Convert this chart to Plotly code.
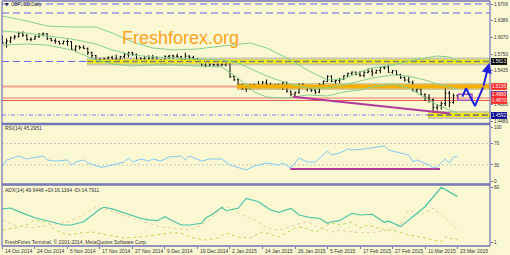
import plotly.graph_objects as go

# ---------------- data ----------------
date_labels = ["14 Oct 2014", "24 Oct 2014", "5 Nov 2014", "17 Nov 2014", "27 Nov 2014",
               "9 Dec 2014", "19 Dec 2014", "2 Jan 2015", "14 Jan 2015", "26 Jan 2015",
               "5 Feb 2015", "17 Feb 2015", "27 Feb 2015", "11 Mar 2015", "23 Mar 2015"]
label_idx = [0, 8, 16, 24, 32, 40, 48, 56, 64, 72, 80, 88, 96, 104, 112]

opens = [1.6085, 1.5965, 1.6000, 1.6060, 1.6085, 1.6150, 1.6110, 1.6030, 1.6040, 1.6085,
         1.6130, 1.6140, 1.6050, 1.6010, 1.5995, 1.5950, 1.5995, 1.5990, 1.5845, 1.5905,
         1.5880, 1.5860, 1.5780, 1.5725, 1.5650, 1.5645, 1.5665, 1.5690, 1.5660, 1.5650,
         1.5705, 1.5740, 1.5780, 1.5750, 1.5640, 1.5670, 1.5635, 1.5675, 1.5690, 1.5600,
         1.5640, 1.5705, 1.5720, 1.5715, 1.5705, 1.5640, 1.5715, 1.5690, 1.5650, 1.5625,
         1.5545, 1.5525, 1.5560, 1.5550, 1.5545, 1.5550, 1.5580, 1.5325, 1.5265, 1.5175,
         1.5095, 1.5105, 1.5165, 1.5135, 1.5140, 1.5215, 1.5175, 1.5135, 1.5165, 1.5135,
         1.5215, 1.5045, 1.4990, 1.5025, 1.5170, 1.5135, 1.5095, 1.5065, 1.5030, 1.5170,
         1.5235, 1.5330, 1.5235, 1.5250, 1.5275, 1.5340, 1.5385, 1.5410, 1.5370, 1.5345,
         1.5400, 1.5425, 1.5395, 1.5440, 1.5495, 1.5505, 1.5405, 1.5435, 1.5365, 1.5305,
         1.5260, 1.5220, 1.5065, 1.5085, 1.4980, 1.4930, 1.4890, 1.4735, 1.4770, 1.4810,
         1.5010, 1.4830, 1.4960]
highs = [1.6110, 1.6050, 1.6090, 1.6120, 1.6180, 1.6185, 1.6130, 1.6070, 1.6110, 1.6150,
         1.6165, 1.6150, 1.6060, 1.6050, 1.6005, 1.6010, 1.6030, 1.6000, 1.5920, 1.5910,
         1.5920, 1.5880, 1.5800, 1.5740, 1.5685, 1.5690, 1.5710, 1.5720, 1.5740, 1.5720,
         1.5770, 1.5800, 1.5795, 1.5760, 1.5690, 1.5720, 1.5730, 1.5740, 1.5710, 1.5660,
         1.5730, 1.5740, 1.5740, 1.5760, 1.5720, 1.5780, 1.5730, 1.5720, 1.5680, 1.5640,
         1.5600, 1.5580, 1.5570, 1.5590, 1.5610, 1.5620, 1.5600, 1.5350, 1.5290, 1.5185,
         1.5140, 1.5180, 1.5185, 1.5240, 1.5240, 1.5270, 1.5210, 1.5180, 1.5190, 1.5230,
         1.5230, 1.5060, 1.5040, 1.5200, 1.5200, 1.5160, 1.5110, 1.5080, 1.5200, 1.5250,
         1.5350, 1.5350, 1.5270, 1.5300, 1.5350, 1.5400, 1.5420, 1.5420, 1.5430, 1.5440,
         1.5480, 1.5480, 1.5460, 1.5500, 1.5530, 1.5550, 1.5450, 1.5440, 1.5380, 1.5330,
         1.5320, 1.5250, 1.5100, 1.5100, 1.5010, 1.4990, 1.4910, 1.4800, 1.4850, 1.5165,
         1.5050, 1.5000, 1.4990]
lows = [1.5940, 1.5875, 1.5960, 1.6030, 1.6070, 1.6080, 1.6010, 1.5995, 1.6020, 1.6060,
        1.6090, 1.6020, 1.5990, 1.5950, 1.5935, 1.5940, 1.5910, 1.5830, 1.5790, 1.5840,
        1.5850, 1.5735, 1.5680, 1.5620, 1.5590, 1.5610, 1.5640, 1.5620, 1.5630, 1.5640,
        1.5670, 1.5690, 1.5720, 1.5620, 1.5590, 1.5620, 1.5620, 1.5640, 1.5580, 1.5570,
        1.5560, 1.5660, 1.5660, 1.5680, 1.5620, 1.5620, 1.5610, 1.5640, 1.5600, 1.5530,
        1.5500, 1.5510, 1.5520, 1.5510, 1.5530, 1.5520, 1.5300, 1.5240, 1.5150, 1.5070,
        1.5035, 1.5080, 1.5120, 1.5100, 1.5120, 1.5150, 1.5120, 1.5110, 1.5100, 1.5070,
        1.5020, 1.4950, 1.4950, 1.5000, 1.5110, 1.5040, 1.5030, 1.4990, 1.5010, 1.5130,
        1.5220, 1.5220, 1.5190, 1.5200, 1.5260, 1.5320, 1.5350, 1.5350, 1.5320, 1.5310,
        1.5390, 1.5330, 1.5380, 1.5390, 1.5460, 1.5400, 1.5380, 1.5350, 1.5280, 1.5230,
        1.5210, 1.5040, 1.5010, 1.4970, 1.4860, 1.4830, 1.4635, 1.4680, 1.4700, 1.4760,
        1.4740, 1.4810, 1.4890]
closes = [1.5965, 1.6000, 1.6060, 1.6085, 1.6150, 1.6110, 1.6030, 1.6040, 1.6085, 1.6130,
          1.6140, 1.6050, 1.6010, 1.5995, 1.5950, 1.5995, 1.5990, 1.5845, 1.5905, 1.5880,
          1.5860, 1.5780, 1.5725, 1.5650, 1.5645, 1.5665, 1.5690, 1.5660, 1.5650, 1.5705,
          1.5740, 1.5780, 1.5750, 1.5640, 1.5670, 1.5635, 1.5675, 1.5690, 1.5600, 1.5640,
          1.5705, 1.5720, 1.5715, 1.5705, 1.5640, 1.5715, 1.5690, 1.5650, 1.5625, 1.5545,
          1.5525, 1.5560, 1.5550, 1.5545, 1.5550, 1.5580, 1.5325, 1.5265, 1.5175, 1.5095,
          1.5105, 1.5165, 1.5135, 1.5140, 1.5215, 1.5175, 1.5135, 1.5165, 1.5135, 1.5215,
          1.5045, 1.4990, 1.5025, 1.5170, 1.5135, 1.5095, 1.5065, 1.5030, 1.5170, 1.5235,
          1.5330, 1.5235, 1.5250, 1.5275, 1.5340, 1.5385, 1.5410, 1.5370, 1.5345, 1.5400,
          1.5425, 1.5395, 1.5440, 1.5495, 1.5505, 1.5405, 1.5435, 1.5365, 1.5305, 1.5260,
          1.5220, 1.5065, 1.5085, 1.4980, 1.4930, 1.4890, 1.4735, 1.4770, 1.4810, 1.5010,
          1.4830, 1.4960, 1.4950]
bars = list(range(len(closes)))

# envelope (green) lines
upper_idx = [0, 6, 11, 17, 23, 27, 32, 37, 42, 48, 54, 61, 65, 70, 75, 80, 84, 88, 91, 96,
             100, 104, 107, 110, 112]
upper_val = [1.6478, 1.6383, 1.6287, 1.6268, 1.6268, 1.6154, 1.5983, 1.5869, 1.5831, 1.5850,
             1.5907, 1.5964, 1.5869, 1.5679, 1.5450, 1.5260, 1.5279, 1.5412, 1.5488, 1.5545,
             1.5622, 1.5679, 1.5717, 1.5698, 1.5622]
mid_idx = [0, 6, 11, 17, 23, 27, 32, 37, 42, 48, 54, 58, 62, 65, 70, 75, 80, 84, 88, 91,
           96, 100, 104, 107, 112]
mid_val = [1.6192, 1.6154, 1.6097, 1.6040, 1.5945, 1.5831, 1.5736, 1.5698, 1.5679, 1.5660,
           1.5641, 1.5584, 1.5450, 1.5336, 1.5203, 1.5108, 1.5108, 1.5165, 1.5241, 1.5298,
           1.5355, 1.5336, 1.5260, 1.5184, 1.5089]
lower_idx = [0, 6, 11, 17, 23, 27, 32, 37, 42, 48, 54, 58, 62, 65, 70, 75, 80, 84, 88, 91,
             96, 100, 104, 107, 112]
lower_val = [1.5926, 1.5945, 1.5926, 1.5831, 1.5641, 1.5564, 1.5526, 1.5545, 1.5545, 1.5526,
             1.5507, 1.5298, 1.5032, 1.4937, 1.4918, 1.4975, 1.4956, 1.5032, 1.5070, 1.5127,
             1.5184, 1.5108, 1.4918, 1.4784, 1.4632]

# RSI(14)
rsi_idx = [0, 1, 4, 6, 7, 10, 11, 13, 16, 17, 18, 20, 21, 23, 24, 25, 27, 28, 30, 31, 32,
           34, 36, 37, 39, 41, 44, 45, 46, 49, 51, 54, 56, 60, 62, 65, 68, 69, 71, 73, 75,
           77, 79, 80, 81, 83, 85, 86, 89, 91, 94, 95, 97, 100, 101, 102, 105, 106, 107,
           109, 110, 111, 112]
rsi_val = [27.9, 39.1, 46.6, 41.0, 42.8, 46.6, 39.1, 37.2, 39.1, 29.8, 35.4, 39.1, 33.5,
           27.9, 26.1, 26.1, 29.8, 31.7, 35.4, 42.8, 35.4, 41.0, 37.2, 41.0, 37.2, 44.7,
           46.6, 39.1, 46.6, 37.2, 41.0, 41.0, 29.8, 20.5, 27.9, 33.5, 29.8, 33.5, 24.2,
           42.8, 35.4, 35.4, 48.4, 55.9, 48.4, 52.1, 59.6, 57.7, 59.6, 61.5, 65.2, 57.7,
           54.0, 48.4, 35.4, 39.1, 29.8, 24.2, 26.1, 41.0, 33.5, 44.7, 45.3]

# ADX(14), +DI, -DI
adx_idx = [0, 2, 4, 7, 8, 12, 15, 17, 20, 24, 25, 27, 31, 34, 36, 38, 40, 41, 44, 46, 49,
           50, 52, 54, 55, 58, 60, 63, 66, 68, 71, 73, 76, 78, 80, 81, 83, 86, 88, 91, 94,
           95, 98, 104, 108, 110, 112]
adx_val = [37.2, 38.2, 34.3, 28.9, 27.8, 23.5, 20.0, 20.0, 23.5, 37.2, 39.0, 37.2, 31.5,
           27.2, 25.4, 24.6, 28.9, 26.4, 20.0, 20.0, 21.8, 27.2, 32.5, 39.0, 35.3, 37.9,
           48.6, 45.0, 36.1, 33.6, 37.9, 30.7, 27.8, 27.2, 21.8, 23.5, 24.6, 32.5, 30.7,
           31.5, 22.9, 24.3, 18.2, 39.6, 60.4, 55.7, 50.4]
pdi_idx = [0, 3, 6, 8, 11, 13, 16, 19, 22, 26, 30, 34, 38, 41, 44, 46, 50, 53, 55, 58, 61,
           64, 68, 72, 74, 77, 81, 83, 86, 88, 90, 94, 96, 100, 104, 108, 109, 112]
pdi_val = [14.6, 16.8, 20.0, 25.4, 23.2, 14.6, 9.3, 11.4, 12.5, 9.3, 6.0, 7.1, 9.3, 11.4,
           11.4, 7.1, 3.9, 6.0, 11.4, 7.1, 6.0, 12.5, 7.1, 16.8, 17.8, 12.5, 22.1, 20.0,
           23.2, 16.8, 20.0, 14.6, 14.6, 9.3, 6.0, 1.8, 7.1, 3.9]
mdi_idx = [0, 3, 7, 16, 20, 23, 26, 31, 35, 39, 41, 46, 50, 54, 56, 58, 62, 65, 68, 72, 75,
           78, 81, 83, 86, 90, 94, 98, 100, 103, 106, 109, 112]
mdi_val = [25.4, 20.0, 16.8, 23.2, 30.7, 39.3, 36.1, 28.6, 23.2, 17.8, 16.8, 14.6, 22.1,
           38.2, 39.3, 32.9, 25.4, 16.8, 14.6, 20.0, 23.2, 16.8, 12.5, 14.6, 12.5, 11.4,
           13.6, 20.0, 36.1, 30.7, 38.2, 27.5, 14.6]

# horizontal levels
dashed_levels = [1.6706, 1.6535, 1.5613]
yellow_levels = [1.5613, 1.4592]
yellow_starts = [20.8, 104.7]
orange_level = 1.5136
orange_start = 57.7
salmon_level = 1.5136
red_levels = [1.4917, 1.4870]
dashdot_level = 1.4592

# drawings
trend_idx = [71.5, 110.2]
trend_price = [1.4942, 1.4623]
rsi_trend_idx = [70.8, 107.7]
rsi_trend_val = [22.3, 22.3]
box_idx = [112.1, 115.6, 115.6, 112.1, 112.1]
box_price = [1.4988, 1.4988, 1.4877, 1.4877, 1.4988]
zig_idx = [113.2, 114.1, 116.3, 118.3]
zig_price = [1.4942, 1.5102, 1.4765, 1.5121]
arrow_head_idx = 119.8
arrow_head_price = 1.5584

price_ticks = [1.6706, 1.6386, 1.6070, 1.5750, 1.5435, 1.4800, 1.4480]
rsi_ticks = [100, 70, 30, 0]
adx_ticks = [60, 1]
box_texts = ["1.5613", "1.5136", "1.4950", "1.4870", "1.4592"]
box_pos = [1.5613, 1.5136, 1.4985, 1.4875, 1.4592]
box_bg = ["#000000", "#FF2B2B", "#FF2B2B", "#FF2B2B", "#00008C"]
box_border = ["#000000", "#FF2B2B", "#2020C0", "#FF2B2B", "#00008C"]

# ---------------- figure ----------------
XMIN, XMAX = -0.12, 120.0
FONT = "Liberation Sans, Arial, sans-serif"
BG = "#F9F8D3"
BORDER = "#7373B5"

fig = go.Figure()

# yellow / orange highlighted levels (with shadow)
for lv, st in zip(yellow_levels, yellow_starts):
    fig.add_trace(go.Scatter(x=[st, XMAX], y=[lv, lv], mode="lines",
                             line=dict(color="rgba(90,90,90,0.30)", width=8),
                             hoverinfo="skip", showlegend=False))
    fig.add_trace(go.Scatter(x=[st, XMAX], y=[lv, lv], mode="lines",
                             line=dict(color="#F2EE10", width=4),
                             hoverinfo="skip", showlegend=False))
    fig.add_trace(go.Scatter(x=[st, XMAX], y=[lv, lv], mode="lines",
                             line=dict(color="#7C7C7C", width=1.6, dash="6px,3px"),
                             hoverinfo="skip", showlegend=False))
fig.add_trace(go.Scatter(x=[orange_start, XMAX], y=[orange_level, orange_level], mode="lines",
                         line=dict(color="rgba(110,90,40,0.30)", width=7),
                         hoverinfo="skip", showlegend=False))
fig.add_trace(go.Scatter(x=[orange_start, XMAX], y=[orange_level, orange_level], mode="lines",
                         line=dict(color="#F7B000", width=4),
                         hoverinfo="skip", showlegend=False))

# green envelope lines
for xs, ys in [(upper_idx, upper_val), (mid_idx, mid_val), (lower_idx, lower_val)]:
    fig.add_trace(go.Scatter(x=xs, y=ys, mode="lines",
                             line=dict(color="#86CF8C", width=1),
                             hoverinfo="skip", showlegend=False))

# magenta trend line
fig.add_trace(go.Scatter(x=trend_idx, y=trend_price, mode="lines",
                         line=dict(color="#B23A98", width=2),
                         hoverinfo="skip", showlegend=False))
fig.add_trace(go.Scatter(x=box_idx, y=box_price, mode="lines",
                         line=dict(color="#B050B8", width=1.5),
                         hoverinfo="skip", showlegend=False))

# price bars
fig.add_trace(go.Ohlc(x=bars, open=opens, high=highs, low=lows, close=closes,
                      increasing=dict(line=dict(color="#000000", width=1)),
                      decreasing=dict(line=dict(color="#000000", width=1)),
                      tickwidth=0.3, hoverinfo="skip", showlegend=False))

# blue zigzag projection
fig.add_trace(go.Scatter(x=zig_idx, y=zig_price, mode="lines",
                         line=dict(color="#2222DD", width=2),
                         hoverinfo="skip", showlegend=False))

# RSI
fig.add_trace(go.Scatter(x=rsi_trend_idx, y=rsi_trend_val, mode="lines", yaxis="y2",
                         line=dict(color="#B23A98", width=2),
                         hoverinfo="skip", showlegend=False))
fig.add_trace(go.Scatter(x=rsi_idx, y=rsi_val, mode="lines", yaxis="y2",
                         line=dict(color="#86C8F0", width=1),
                         hoverinfo="skip", showlegend=False))

# ADX
fig.add_trace(go.Scatter(x=mdi_idx, y=mdi_val, mode="lines", yaxis="y3",
                         line=dict(color="#F2CBA8", width=1, dash="dot"),
                         hoverinfo="skip", showlegend=False))
fig.add_trace(go.Scatter(x=pdi_idx, y=pdi_val, mode="lines", yaxis="y3",
                         line=dict(color="#C2D865", width=1, dash="dot"),
                         hoverinfo="skip", showlegend=False))
fig.add_trace(go.Scatter(x=adx_idx, y=adx_val, mode="lines", yaxis="y3",
                         line=dict(color="#4CC3A0", width=1.2),
                         hoverinfo="skip", showlegend=False))

shapes = []
for lv in dashed_levels:
    shapes.append(dict(type="line", xref="x domain", x0=0, x1=1, yref="y", y0=lv, y1=lv,
                       line=dict(color="#6464E6", width=1, dash="7px,4px"), layer="below"))
shapes.append(dict(type="line", xref="x domain", x0=0, x1=1, yref="y",
                   y0=salmon_level, y1=salmon_level,
                   line=dict(color="#F5A58E", width=2), layer="below"))
shapes.append(dict(type="line", xref="x domain", x0=0, x1=1, yref="y",
                   y0=red_levels[0], y1=red_levels[0],
                   line=dict(color="#F07A6A", width=1), layer="below"))
shapes.append(dict(type="line", xref="x domain", x0=0, x1=1, yref="y",
                   y0=red_levels[1], y1=red_levels[1],
                   line=dict(color="#E85A50", width=1), layer="below"))
shapes.append(dict(type="line", xref="x domain", x0=0, x1=1, yref="y",
                   y0=dashdot_level, y1=dashdot_level,
                   line=dict(color="#A4A4EC", width=1.5, dash="4px,2px,1px,2px"), layer="below"))
for lv in [70, 30]:
    shapes.append(dict(type="line", xref="x domain", x0=0, x1=1, yref="y2", y0=lv, y1=lv,
                       line=dict(color="#C9C9C0", width=1, dash="2px,2px"), layer="below"))
# panel borders
for yy in [1.0, 0.5, 0.496, 0.253, 0.249, 0.0]:
    shapes.append(dict(type="line", xref="paper", yref="paper", x0=0, x1=1, y0=yy, y1=yy,
                       line=dict(color=BORDER, width=1.3)))
for xx in [0.0, 1.0]:
    shapes.append(dict(type="line", xref="paper", yref="paper", x0=xx, x1=xx, y0=0, y1=1,
                       line=dict(color=BORDER, width=1.2)))

small = dict(family=FONT, size=5, color="#333333")
ann = []
ann.append(dict(text="Freshforex.org", xref="paper", yref="paper", x=0.3648, y=0.851,
                xanchor="center", yanchor="middle", showarrow=False,
                font=dict(family=FONT, size=18, color="#FFA21F")))
ann.append(dict(text="▼", xref="paper", yref="paper", x=0.002, y=0.984,
                xanchor="left", yanchor="middle", showarrow=False,
                font=dict(family="DejaVu Sans", size=4.5, color="#202060")))
ann.append(dict(text="GBPUSD,Daily", xref="paper", yref="paper", x=0.0143, y=0.984,
                xanchor="left", yanchor="middle", showarrow=False,
                font=dict(family=FONT, size=4.5, color="#333333")))
ann.append(dict(text="RSI(14) 45.2951", xref="paper", yref="paper", x=0.003, y=0.4816,
                xanchor="left", yanchor="middle", showarrow=False, font=small))
ann.append(dict(text="ADX(14) 49.9448 +DI:16.1164 -DI:14.7911", xref="paper", yref="paper",
                x=0.003, y=0.2286, xanchor="left", yanchor="middle", showarrow=False,
                font=small))
ann.append(dict(text="FreshForex Terminal, © 2001-2014, MetaQuotes Software Corp.",
                xref="paper", yref="paper", x=0.003, y=0.018, xanchor="left",
                yanchor="middle", showarrow=False, font=small))
for t, xi in zip(date_labels, label_idx):
    ann.append(dict(text=t, xref="x", yref="paper", x=xi, y=-0.0204, xanchor="left",
                    yanchor="middle", xshift=0.5, showarrow=False, font=small))
for t, p, bg, bc in zip(box_texts, box_pos, box_bg, box_border):
    ann.append(dict(text=t, xref="paper", yref="y", x=1.0, y=p, xanchor="left",
                    yanchor="middle", xshift=1, showarrow=False, bgcolor=bg,
                    bordercolor=bc, borderwidth=0.6, borderpad=0.3,
                    font=dict(family=FONT, size=4.6, color="#FFFFFF")))
ann.append(dict(text="", x=arrow_head_idx, y=arrow_head_price, xref="x", yref="y",
                ax=zig_idx[-1], ay=zig_price[-1], axref="x", ayref="y",
                showarrow=True, arrowhead=2, arrowsize=1, arrowwidth=2,
                arrowcolor="#2222DD"))

tickfont = dict(family=FONT, size=4.6, color="#333333")
common_y = dict(side="right", anchor="x", showgrid=False, zeroline=False, showline=False,
                ticks="outside", ticklen=2, tickwidth=1, tickcolor=BORDER, tickfont=tickfont)

fig.update_layout(
    width=510, height=255,
    margin=dict(l=2, r=20, t=1, b=9),
    paper_bgcolor=BG, plot_bgcolor=BG,
    showlegend=False,
    xaxis=dict(domain=[0, 1], range=[XMIN, XMAX], anchor="y3", showgrid=False,
               zeroline=False, showline=False, ticks="outside", ticklen=2,
               tickcolor=BORDER, tickvals=label_idx, showticklabels=False,
               rangeslider=dict(visible=False)),
    yaxis=dict(domain=[0.5, 1.0], range=[1.44324, 1.67631], tickvals=price_ticks,
               ticktext=[f"{v:.4f}" for v in price_ticks], **common_y),
    yaxis2=dict(domain=[0.253, 0.496], range=[-5.59, 105.25], tickvals=rsi_ticks,
                ticktext=[str(v) for v in rsi_ticks], **common_y),
    yaxis3=dict(domain=[0.0, 0.249], range=[-2.54, 62.9], tickvals=adx_ticks,
                ticktext=[str(v) for v in adx_ticks], **common_y),
    shapes=shapes,
    annotations=ann,
)

fig.write_html("out.html")
